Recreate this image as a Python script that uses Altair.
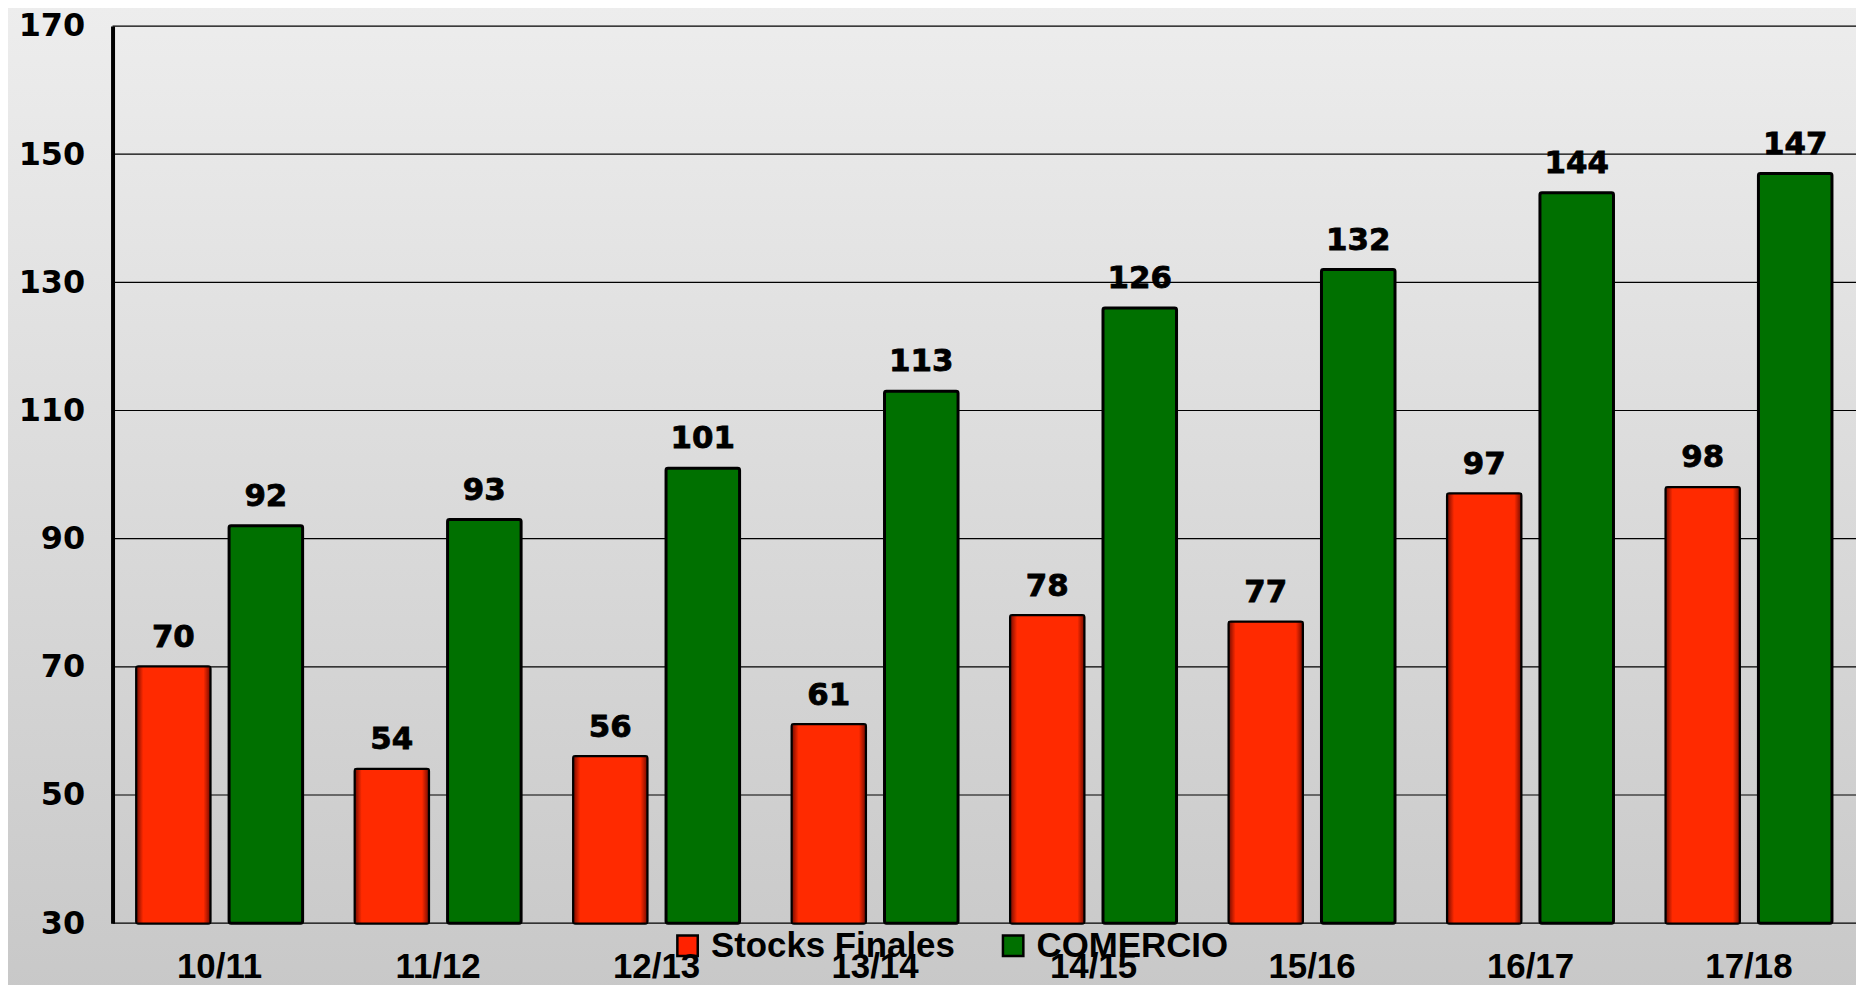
import altair as alt
import pandas as pd

categories = ["10/11", "11/12", "12/13", "13/14", "14/15", "15/16", "16/17", "17/18"]
series = ["Stocks Finales", "COMERCIO"]
stocks = [70, 54, 56, 61, 78, 77, 97, 98]
comercio = [92, 93, 101, 113, 126, 132, 144, 147]
y_ticks = [30, 50, 70, 90, 110, 130, 150, 170]

rows = []
for c, s, m in zip(categories, stocks, comercio):
    rows.append({"cat": c, "series": series[0], "value": s})
    rows.append({"cat": c, "series": series[1], "value": m})
df = pd.DataFrame(rows)
grid_df = pd.DataFrame({"value": y_ticks})

W, H = 1751, 901
yscale = alt.Scale(domain=[30, 170], nice=False, zero=False)
xscale = alt.Scale(domain=categories, paddingInner=0.24, paddingOuter=0.11)
xoff = alt.Scale(domain=series, paddingInner=0.205, paddingOuter=0)

xaxis = alt.Axis(labelFont="Liberation Sans", labelFontWeight="bold", labelFontSize=35,
                 labelColor="black", labelAngle=0, labelPadding=27, domain=False,
                 ticks=False, grid=False, zindex=1, title=None)
yaxis = alt.Axis(values=y_ticks, labelFont="DejaVu Sans", labelFontWeight="bold",
                 labelFontSize=32, labelColor="black", labelPadding=28,
                 domain=True, domainColor="black", domainWidth=4, ticks=False,
                 grid=False, zindex=1, title=None)

X = alt.X("cat:N", scale=xscale, sort=categories, axis=xaxis, title=None)
XO = alt.XOffset("series:N", scale=xoff, sort=series)
Y = alt.Y("value:Q", scale=yscale, axis=yaxis, title=None)

bg = alt.Chart(alt.Data(values=[{"a": 1}])).mark_rect(
    fill=alt.LinearGradient(
        gradient="linear", x1=0, x2=0, y1=0, y2=1,
        stops=[alt.GradientStop(offset=0, color="#ededed"),
               alt.GradientStop(offset=1, color="#c8c8c8")],
    )
).encode(x=alt.value(-110), x2=alt.value(W + 10), y=alt.value(-20), y2=alt.value(H + 70))

grid = alt.Chart(grid_df).mark_rule(color="black", strokeWidth=1.2).encode(
    y=Y, x=alt.value(0), x2=alt.value(W),
)

base = alt.Chart(df)

bars = base.mark_bar(stroke="black", strokeWidth=3, cornerRadius=2).encode(
    x=X, xOffset=XO, y=Y, y2=alt.datum(30),
    color=alt.Color("series:N", sort=series,
                    scale=alt.Scale(domain=series, range=["#ff2200", "#007000"]),
                    legend=alt.Legend(title=None, orient="none", direction="horizontal",
                                      legendX=560, legendY=906, symbolType="square",
                                      symbolSize=420, symbolStrokeColor="black",
                                      symbolStrokeWidth=2.5, labelFont="Liberation Sans",
                                      labelFontWeight="bold", labelFontSize=35,
                                      labelColor="black", labelOffset=6, columnPadding=40,
                                      padding=0, symbolOpacity=1, labelLimit=0)),
)

red = base.transform_filter(alt.datum.series == series[0]).mark_bar(
    stroke="black", strokeWidth=1.5,
    fill=alt.LinearGradient(
        gradient="linear", x1=0, x2=1, y1=0, y2=0,
        stops=[alt.GradientStop(offset=0, color="#7a0c00"),
               alt.GradientStop(offset=0.09, color="#ff2a00"),
               alt.GradientStop(offset=0.91, color="#ff2a00"),
               alt.GradientStop(offset=1, color="#7a0c00")],
    ),
).encode(x=X, xOffset=XO, y=Y, y2=alt.datum(30))

labels = base.mark_text(font="DejaVu Sans", fontWeight="bold", fontSize=31, color="black",
                        stroke="black", strokeWidth=0.8,
                        baseline="alphabetic", dy=-20).encode(
    x=X, xOffset=XO, y=Y, text=alt.Text("value:Q"),
)

chart = alt.layer(bg, grid, bars, red, labels).properties(
    width=W, height=H,
    autosize=alt.AutoSizeParams(type="none"),
    padding={"left": 105, "top": 16, "right": 0, "bottom": 60},
    background="#c8c8c8",
).configure_view(stroke=None)

chart.save("out.html", embed_options={"renderer": "svg", "actions": False})
